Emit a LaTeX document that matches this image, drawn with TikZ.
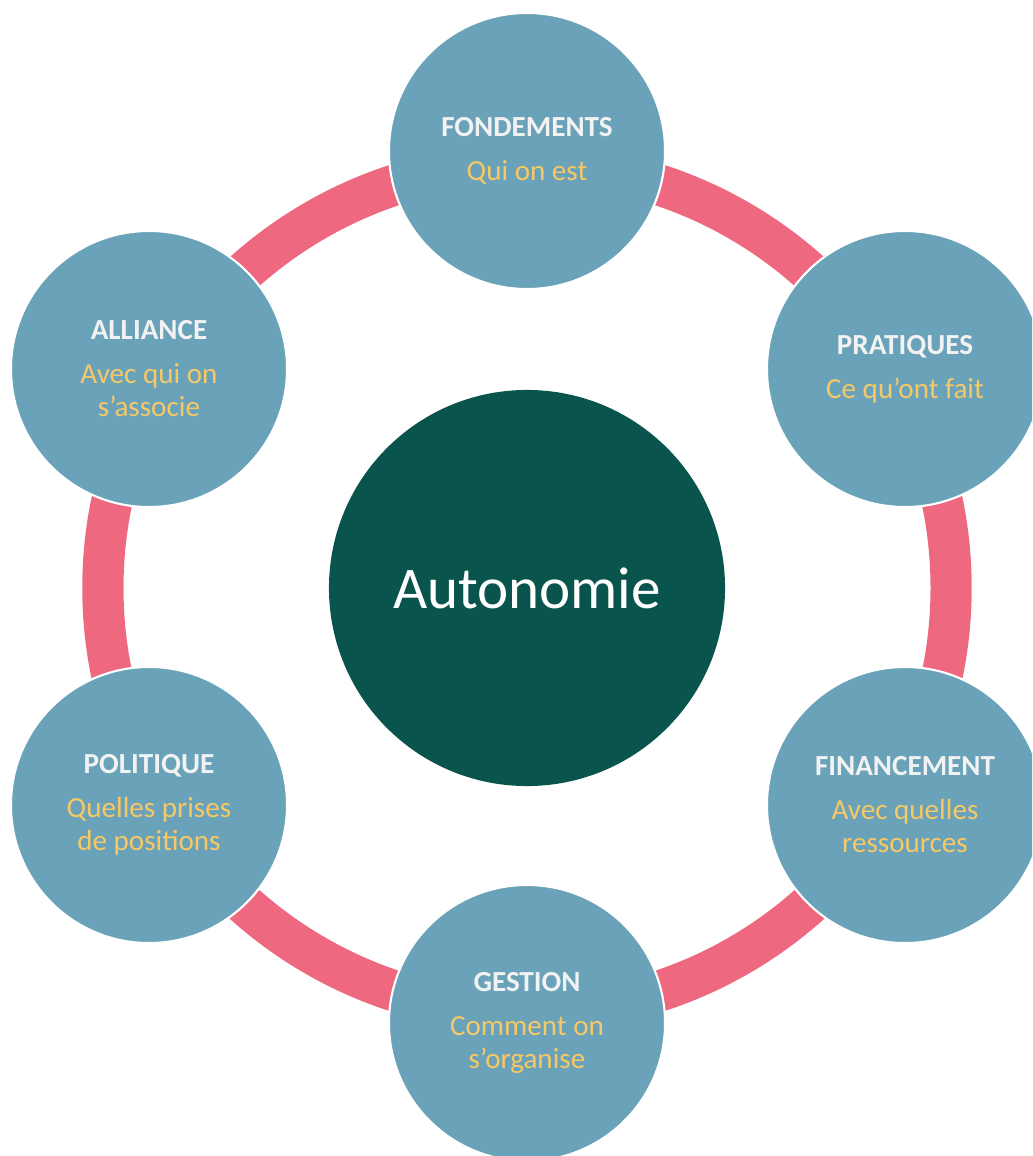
\documentclass[tikz,border=0pt]{standalone}
\usepackage{fontspec}
\setmainfont{Carlito}
\usepackage{xcolor}
\usetikzlibrary{positioning,calc}

\definecolor{ringpink}{RGB}{238,104,128}
\definecolor{petalblue}{RGB}{106,163,185}
\definecolor{coregreen}{RGB}{10,84,78}
\definecolor{subyellow}{RGB}{247,200,100}

\newcommand{\petaltitle}[1]{{\bfseries\color{white!95!black}#1}\\[7.8pt]}

\begin{document}
\begin{tikzpicture}[
    x=0.025cm, y=-0.025cm,
    core/.style={circle, fill=coregreen, text=white, minimum size=9.9cm,
        font=\fontsize{42}{50}\selectfont},
    petal/.style={circle, fill=petalblue, draw=white, line width=1.5pt,
        minimum size=6.9cm, align=center, text=subyellow,
        font=\fontsize{20.7}{23.5}\selectfont},
    ring/.style={draw=ringpink, line width=1.03cm}
]
    \useasboundingbox (0,0) rectangle (1032,1156);
    \clip (0,0) rectangle (1032,1156);

    \node[core] (auto) at (527,588) {Autonomie};

    % ring behind the petals
    \draw[ring] (auto.center) circle (10.6cm);

    \node[petal] (fond) at (527,151) {\petaltitle{FONDEMENTS}Qui on est};
    \node[petal] (prat) at (905,369) {\petaltitle{PRATIQUES}Ce qu’ont fait};
    \node[petal] (fin)  at (905,805) {\petaltitle{FINANCEMENT}Avec quelles\\ressources};
    \node[petal] (gest) at (527,1023) {\petaltitle{GESTION}Comment on\\s’organise};
    \node[petal] (pol)  at (149,805) {\petaltitle{POLITIQUE}Quelles prises\\de positions};
    \node[petal] (alli) at (149,369) {\petaltitle{ALLIANCE}Avec qui on\\s’associe};
\end{tikzpicture}
\end{document}
